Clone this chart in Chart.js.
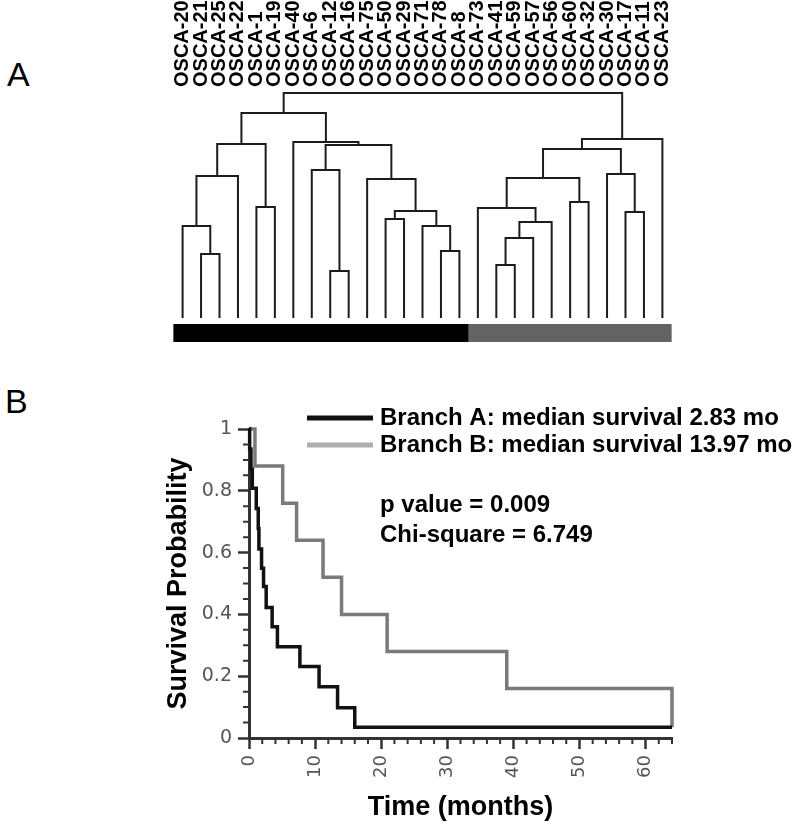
<!DOCTYPE html>
<html>
<head>
<meta charset="utf-8">
<script src="https://cdn.jsdelivr.net/npm/chart.js@4/dist/chart.umd.min.js"></script>
<style>
body{margin:0;background:#fff;width:800px;height:833px;position:relative;overflow:hidden}
canvas{position:absolute;left:0}
#dendro{top:0}
#km{top:360px}
.panel{position:absolute;font-family:'Liberation Sans',Arial,sans-serif;font-size:34px;line-height:34px;color:#000}
</style>
</head>
<body>
<div class="panel" style="left:7px;top:57px">A</div>
<div class="panel" style="left:5px;top:384px">B</div>
<canvas id="dendro" width="800" height="360"></canvas>
<canvas id="km" width="800" height="473"></canvas>
<script>
// panel A: leaves in plotted order and the merges (node ids 27.. in order)
const leafLabels=['OSCA-20','OSCA-21','OSCA-25','OSCA-22','OSCA-1','OSCA-19','OSCA-40','OSCA-6','OSCA-12','OSCA-16','OSCA-75','OSCA-50','OSCA-29','OSCA-71','OSCA-78','OSCA-8','OSCA-73','OSCA-41','OSCA-59','OSCA-57','OSCA-56','OSCA-60','OSCA-32','OSCA-30','OSCA-17','OSCA-11','OSCA-23']
const leafBranch=['A','A','A','A','A','A','A','A','A','A','A','A','A','A','A','A','B','B','B','B','B','B','B','B','B','B','B']
const mergeLeft=[1,0,28,4,29,8,7,11,14,13,34,10,33,6,31,17,42,43,16,21,45,24,23,47,50,41]
const mergeRight=[2,27,3,5,30,9,32,12,15,35,36,37,38,39,40,18,19,20,44,22,46,25,48,49,26,51]
const mergeHeight=[0.64,0.92,1.42,1.11,1.74,0.47,1.48,0.99,0.67,0.92,1.07,1.39,1.73,1.76,2.05,0.53,0.80,0.96,1.10,1.16,1.40,1.06,1.44,1.69,1.79,2.25]

// panel B: Kaplan-Meier steps (months, survival after the step)
const timeA=[0,0.1,0.3,0.5,1.1,1.4,1.5,1.9,2.2,2.6,3.5,4.3,7.7,10.6,13.4,16.0,64]
const survA=[1,0.935,0.87,0.808,0.743,0.678,0.612,0.549,0.49,0.422,0.36,0.295,0.231,0.166,0.098,0.035,0.035]
const timeB=[0,0.9,5.1,7.2,11.2,14.0,20.9,39.0,64,64]
const survB=[1,0.88,0.76,0.64,0.52,0.40,0.28,0.16,0.16,0.035]
const seriesNames=['Branch A: median survival 2.83 mo','Branch B: median survival 13.97 mo']
const stats=['p value = 0.009','Chi-square = 6.749']

const sans="'Liberation Sans', Arial, sans-serif"

// ---------- dendrogram ----------
const nodeX=leafLabels.map((l,i)=>i)
const nodeH=leafLabels.map(()=>0)
const links=[]
mergeLeft.forEach((l,k)=>{
    const r=mergeRight[k],h=mergeHeight[k]
    links.push({
        type:'line',
        data:[{x:nodeX[l],y:nodeH[l]},{x:nodeX[l],y:h},{x:nodeX[r],y:h},{x:nodeX[r],y:nodeH[r]}],
        borderColor:'#1c1c1c',borderWidth:2,pointRadius:0,clip:false
    })
    nodeX.push((nodeX[l]+nodeX[r])/2)
    nodeH.push(h)
})
// branch bar under the leaves
const bars=['A','B'].map(b=>{
    const idx=leafBranch.map((v,i)=>v===b?i:-1).filter(i=>i>=0)
    return {
        type:'line',
        data:[{x:Math.min(...idx)-0.5,y:-0.15},{x:Math.max(...idx)+0.5,y:-0.15}],
        borderColor:b==='A'?'#000':'#636363',borderWidth:18,borderCapStyle:'butt',pointRadius:0,clip:false
    }
})

new Chart(document.querySelector('#dendro').getContext('2d'),{
    type:'line',
    data:{datasets:[...links,...bars]},
    options:{
        animation:false,responsive:false,devicePixelRatio:1,
        layout:{padding:{left:173,right:128,top:0,bottom:18}},
        plugins:{legend:{display:false},tooltip:{enabled:false}},
        scales:{
            x:{
                type:'linear',position:'top',min:-0.52,max:26.52,
                afterFit(s){s.height=93},
                border:{display:false},
                grid:{display:false,drawTicks:false},
                ticks:{
                    stepSize:1,includeBounds:false,autoSkip:false,minRotation:90,maxRotation:90,padding:6,
                    labelOffset:24,
                    color:'#000',font:{family:sans,size:20,weight:'bold'},
                    callback:v=>leafLabels[Math.round(v)]??''
                }
            },
            y:{type:'linear',display:false,min:-0.24,max:2.25}
        }
    }
})

// ---------- survival curves ----------
const minorTicks={
    id:'minorTicks',
    afterDraw(chart){
        const {ctx,chartArea,scales:{x,y}}=chart
        ctx.save()
        ctx.strokeStyle='#333'
        ctx.lineWidth=2
        ctx.beginPath()
        for(let t=2;t<=64;t+=2){
            if(t%10===0)continue
            const px=x.getPixelForValue(t)
            ctx.moveTo(px,chartArea.bottom)
            ctx.lineTo(px,chartArea.bottom+6)
        }
        for(let k=1;k<20;k++){
            if(k%4===0)continue
            const py=y.getPixelForValue(k*0.05)
            ctx.moveTo(chartArea.left,py)
            ctx.lineTo(chartArea.left-6,py)
        }
        ctx.stroke()
        ctx.restore()
    }
}
const kmNotes={
    id:'kmNotes',
    afterDraw(chart){
        const ctx=chart.ctx
        ctx.save()
        ctx.lineCap='butt'
        ctx.lineWidth=5
        ;['#111','#adadad'].forEach((c,i)=>{
            ctx.strokeStyle=c
            ctx.beginPath()
            ctx.moveTo(307,58+i*27)
            ctx.lineTo(373,58+i*27)
            ctx.stroke()
        })
        ctx.fillStyle='#000'
        ctx.font='bold 24px '+sans
        ctx.textBaseline='alphabetic'
        seriesNames.forEach((s,i)=>ctx.fillText(s,380,65+i*27))
        stats.forEach((s,i)=>ctx.fillText(s,380,152+i*30))
        ctx.restore()
    }
}

new Chart(document.querySelector('#km').getContext('2d'),{
    type:'line',
    data:{
        datasets:[
            {label:seriesNames[0],data:timeA.map((t,i)=>({x:t,y:survA[i]})),stepped:true,borderColor:'#111',borderWidth:3.5,pointRadius:0,clip:false},
            {label:seriesNames[1],data:timeB.map((t,i)=>({x:t,y:survB[i]})),stepped:true,borderColor:'#7a7a7a',borderWidth:3.5,pointRadius:0,clip:false}
        ]
    },
    options:{
        animation:false,responsive:false,devicePixelRatio:1,
        layout:{padding:{left:0,right:128,top:69,bottom:0}},
        plugins:{legend:{display:false},tooltip:{enabled:false}},
        scales:{
            x:{
                type:'linear',min:0,max:64,
                afterFit(s){s.height=95},
                border:{color:'#333',width:3},
                grid:{drawOnChartArea:false,tickLength:11,tickWidth:2.5,tickColor:'#333'},
                ticks:{stepSize:10,includeBounds:false,minRotation:90,maxRotation:90,padding:6,color:'#555',font:{family:'DejaVu Sans',size:18}},
                title:{display:true,text:'Time (months)',color:'#000',font:{family:sans,size:27,weight:'bold'},padding:{top:0,bottom:9.5}}
            },
            y:{
                type:'linear',min:0,max:1,
                afterFit(s){s.width=249},
                border:{color:'#333',width:3},
                grid:{drawOnChartArea:false,tickLength:11,tickWidth:2.5,tickColor:'#333'},
                ticks:{stepSize:0.2,padding:6,color:'#555',font:{family:'DejaVu Sans',size:19},callback:v=>String(+v.toFixed(2))},
                title:{display:true,text:'Survival Probability',color:'#000',font:{family:sans,size:27,weight:'bold'},padding:{top:162,bottom:0}}
            }
        }
    },
    plugins:[minorTicks,kmNotes]
})
</script>
</body>
</html>
